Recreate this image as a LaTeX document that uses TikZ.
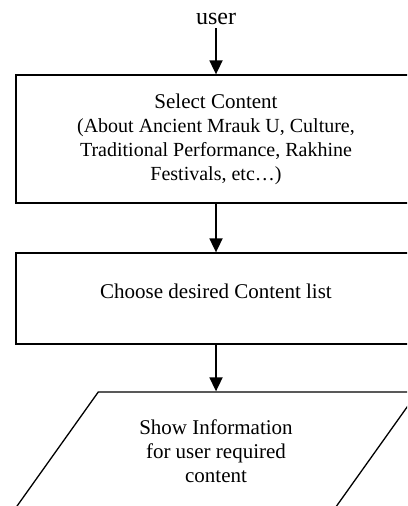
\documentclass[tikz,border=0pt]{standalone}
\usepackage{fontspec}
\setmainfont{Liberation Serif}
\usetikzlibrary{arrows.meta,shapes.geometric}

\newcommand{\bigtxt}{\fontsize{24}{25}\selectfont}
\newcommand{\midtxt}{\fontsize{21}{25}\selectfont}
\newcommand{\smalltxt}{\fontsize{20}{25}\selectfont}

\tikzset{
	stepbox/.style={draw, line width=1.3pt, minimum width=400pt, align=center, inner sep=0pt},
	showbox/.style={draw, line width=1.3pt, trapezium, trapezium left angle=49, trapezium right angle=131,
		trapezium stretches=true, minimum width=404pt, minimum height=118pt, align=center, inner sep=0pt},
	flow/.style={line width=1.8pt, -{Triangle[length=14pt,width=13pt]}}
}

\begin{document}
\begin{tikzpicture}[x=1pt, y=-1pt, font=\fontsize{21}{24}\selectfont]
		\clip (0,0) rectangle (407,506);

		\node[font=\bigtxt] (user) at (216,19) {user};
		\node[stepbox, minimum height=128pt] (select) at (216,139)
		{{\midtxt Select Content}\\{\smalltxt (About Ancient Mrauk U, Culture,}\\
		{\smalltxt Traditional Performance, Rakhine}\\{\smalltxt Festivals, etc…)}};
		\node[stepbox, minimum height=91pt, text depth=14pt] (choose) at (216,298.5) {Choose desired Content list};
		\node[showbox] (show) at (216,451) {Show Information\\for user required\\content};

		\draw[flow] (user) -- (select);
		\draw[flow] (select) -- (choose);
		\draw[flow] (choose) -- (show);

	\end{tikzpicture}
\end{document}
